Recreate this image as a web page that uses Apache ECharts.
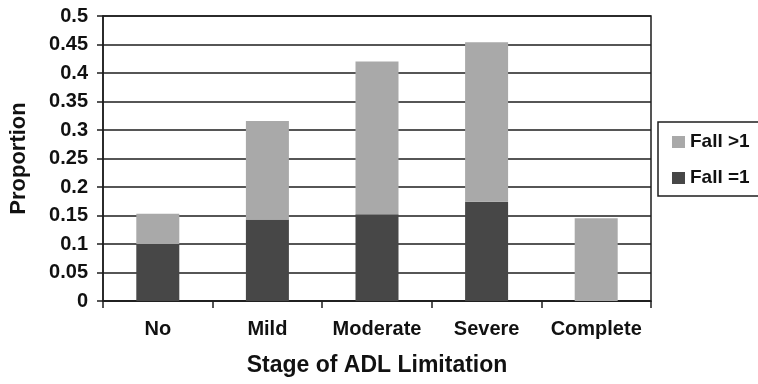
<!DOCTYPE html>
<html>
<head>
<meta charset="utf-8">
<script src="https://cdn.jsdelivr.net/npm/echarts@6/dist/echarts.min.js"></script>
<style>
html,body{margin:0;padding:0;background:#fff;}
#chart{width:758px;height:384px;}
</style>
</head>
<body>
<div id="chart"></div>
<script>
var categories = ['No', 'Mild', 'Moderate', 'Severe', 'Complete'];
var fallOne = [0.100, 0.143, 0.152, 0.174, 0];
var fallMore = [0.053, 0.173, 0.268, 0.280, 0.145];
var seriesNames = ['Fall =1', 'Fall >1'];
var yTicks = [0, 0.05, 0.1, 0.15, 0.2, 0.25, 0.3, 0.35, 0.4, 0.45, 0.5];

var FONT = "'Liberation Sans', Arial, Helvetica, sans-serif";
var chart = echarts.init(document.getElementById('chart'), null, {renderer: 'canvas'});
chart.setOption({
  animation: false,
  backgroundColor: '#fff',
  textStyle: {fontFamily: FONT},
  grid: {
    left: 102, right: 107, top: 16, bottom: 83,
    show: true, borderColor: '#1e1e1e', borderWidth: 1.5, backgroundColor: 'transparent'
  },
  legend: {
    data: [seriesNames[1], seriesNames[0]],
    orient: 'vertical',
    left: 658, top: 122,
    padding: [10, 30, 8, 14],
    itemGap: 16,
    itemWidth: 13, itemHeight: 12,
    icon: 'rect',
    borderColor: '#1e1e1e', borderWidth: 1.5,
    textStyle: {fontFamily: FONT, fontWeight: 'bold', fontSize: 19, color: '#111', lineHeight: 20}
  },
  xAxis: {
    type: 'category',
    data: categories,
    boundaryGap: true,
    name: 'Stage of ADL Limitation',
    nameLocation: 'middle',
    nameGap: 53,
    nameTextStyle: {fontFamily: FONT, fontWeight: 'bold', fontSize: 23, color: '#111'},
    axisLine: {show: true, lineStyle: {color: '#1e1e1e', width: 1.5}},
    axisTick: {show: true, alignWithLabel: false, length: 7, inside: false, lineStyle: {color: '#1e1e1e', width: 1.5}},
    axisLabel: {margin: 18, fontFamily: FONT, fontWeight: 'bold', fontSize: 20, color: '#111', interval: 0},
    splitLine: {show: false}
  },
  yAxis: {
    type: 'value',
    min: yTicks[0], max: yTicks[yTicks.length - 1], interval: 0.05,
    name: 'Proportion',
    nameLocation: 'middle',
    nameGap: 73,
    nameTextStyle: {fontFamily: FONT, fontWeight: 'bold', fontSize: 22, color: '#111'},
    axisLine: {show: true, lineStyle: {color: '#1e1e1e', width: 1.5}},
    axisTick: {show: true, length: 6, lineStyle: {color: '#1e1e1e', width: 1.5}},
    axisLabel: {
      margin: 15, fontFamily: FONT, fontWeight: 'bold', fontSize: 20, color: '#111',
      formatter: function (v) { return String(+v.toFixed(2)); }
    },
    splitLine: {show: true, lineStyle: {color: '#1e1e1e', width: 1.5}}
  },
  series: [
    {
      name: seriesNames[0], type: 'bar', stack: 'f', data: fallOne,
      barWidth: 43,
      itemStyle: {color: '#474747'}
    },
    {
      name: seriesNames[1], type: 'bar', stack: 'f', data: fallMore,
      barWidth: 43,
      itemStyle: {color: '#a9a9a9'}
    }
  ]
});
</script>
</body>
</html>
